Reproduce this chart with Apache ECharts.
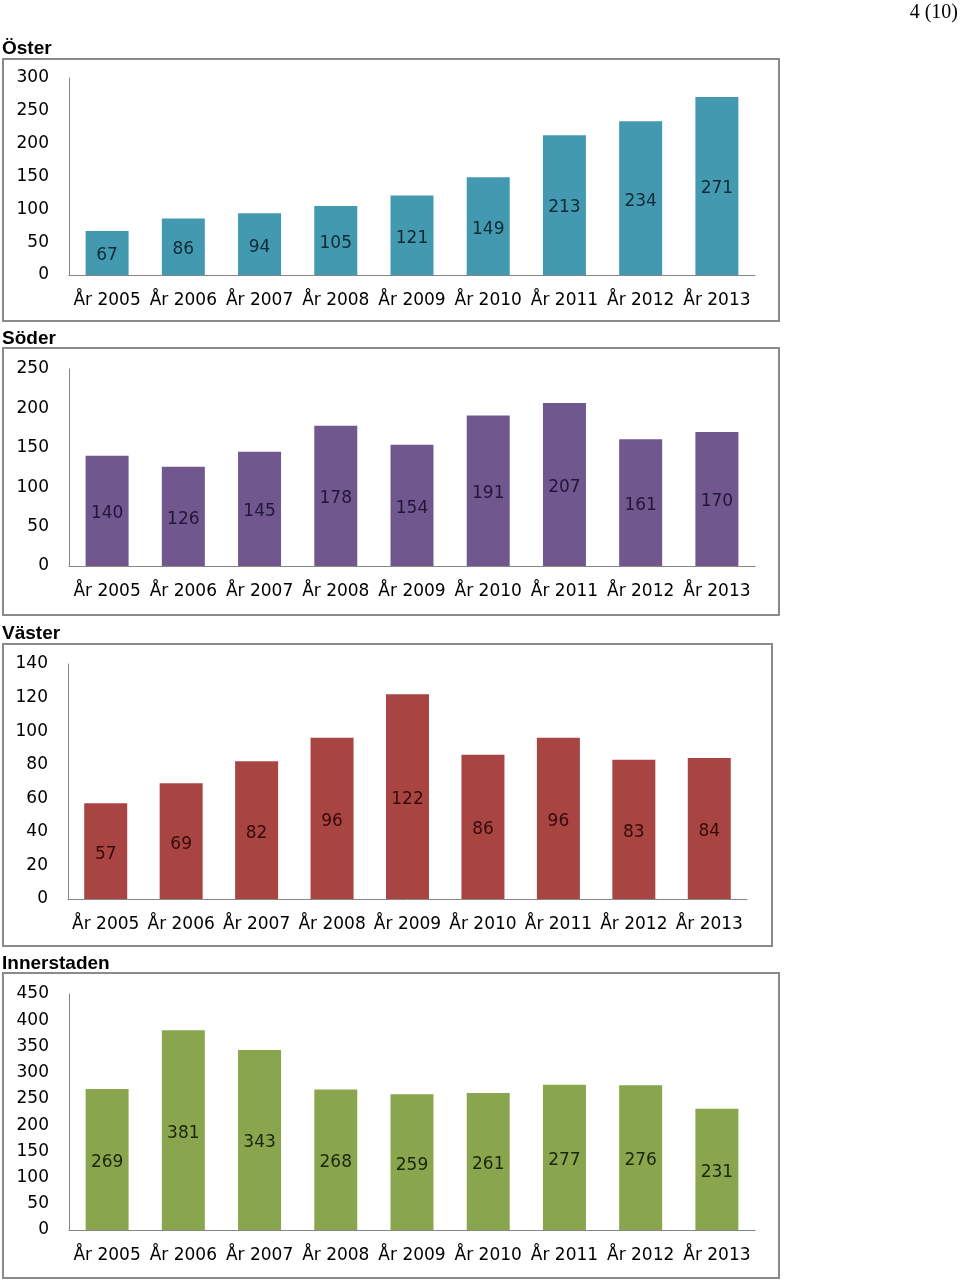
<!DOCTYPE html>
<html>
<head>
<meta charset="utf-8">
<script src="https://cdn.jsdelivr.net/npm/echarts@6/dist/echarts.min.js"></script>
<style>
html,body{margin:0;padding:0;background:#fff;}
#c{width:960px;height:1281px;}
</style>
</head>
<body>
<div id="c"></div>
<script>
const categories = ['År 2005','År 2006','År 2007','År 2008','År 2009','År 2010','År 2011','År 2012','År 2013'];
const titles = ['Öster','Söder','Väster','Innerstaden'];
const oster = [67, 86, 94, 105, 121, 149, 213, 234, 271];
const soder = [140, 126, 145, 178, 154, 191, 207, 161, 170];
const vaster = [57, 69, 82, 96, 122, 86, 96, 83, 84];
const innerstaden = [269, 381, 343, 268, 259, 261, 277, 276, 231];
const yMax = [300, 250, 140, 450];
const yInterval = [50, 50, 20, 50];
const pageLabel = '4 (10)';

const seriesData = [oster, soder, vaster, innerstaden];
const barColors = ['#4399b0', '#70588f', '#a84542', '#89a54e'];
const labelColors = ['#0f2a35', '#22153a', '#360a0a', '#1a260a'];

const grids = [
  {left: 69, top: 78, width: 686, height: 197},
  {left: 69, top: 369, width: 686, height: 197},
  {left: 68, top: 664, width: 679, height: 235},
  {left: 69, top: 994, width: 686, height: 236}
];
const boxes = [
  {x: 3, y: 59, w: 776, h: 262},
  {x: 3, y: 348, w: 776, h: 267},
  {x: 3, y: 644, w: 769, h: 302},
  {x: 3, y: 973, w: 776, h: 305}
];
const titleY = [39, 329, 624, 954];

const font = 'DejaVu Sans';
const chart = echarts.init(document.getElementById('c'), null, {renderer: 'canvas'});

const option = {
  animation: false,
  backgroundColor: '#fff',
  title: titles.map((t, i) => ({
    text: t, left: 2, top: titleY[i],
    textStyle: {fontFamily: 'Liberation Sans', fontWeight: 'bold', fontSize: 19, color: '#000'},
    padding: 0
  })).concat([{
    text: pageLabel, right: 2, top: 3, padding: 0,
    textStyle: {fontFamily: 'Liberation Serif', fontWeight: 'normal', fontSize: 20, color: '#000'}
  }]),
  graphic: boxes.map(b => ({
    type: 'rect', shape: {x: b.x, y: b.y, width: b.w, height: b.h},
    style: {fill: 'none', stroke: '#8a8a8a', lineWidth: 2}, z: 0, silent: true
  })),
  grid: grids,
  xAxis: grids.map((g, i) => ({
    type: 'category', gridIndex: i, data: categories,
    axisLine: {lineStyle: {color: '#868686', width: 1}},
    axisTick: {show: false},
    axisLabel: {fontFamily: font, fontSize: 17, color: '#000', margin: 17, interval: 0}
  })),
  yAxis: grids.map((g, i) => ({
    type: 'value', gridIndex: i, min: 0, max: yMax[i], interval: yInterval[i],
    axisLine: {show: true, lineStyle: {color: '#868686', width: 1}},
    axisTick: {show: false},
    splitLine: {show: false},
    axisLabel: {fontFamily: font, fontSize: 17, color: '#000', margin: 20, hideOverlap: false}
  })),
  series: seriesData.map((d, i) => ({
    type: 'bar', xAxisIndex: i, yAxisIndex: i, data: d, barWidth: 43,
    itemStyle: {color: barColors[i]},
    label: {show: true, position: 'inside', offset: [0, 3], fontFamily: font, fontSize: 17, color: labelColors[i]}
  }))
};
chart.setOption(option);
</script>
</body>
</html>
